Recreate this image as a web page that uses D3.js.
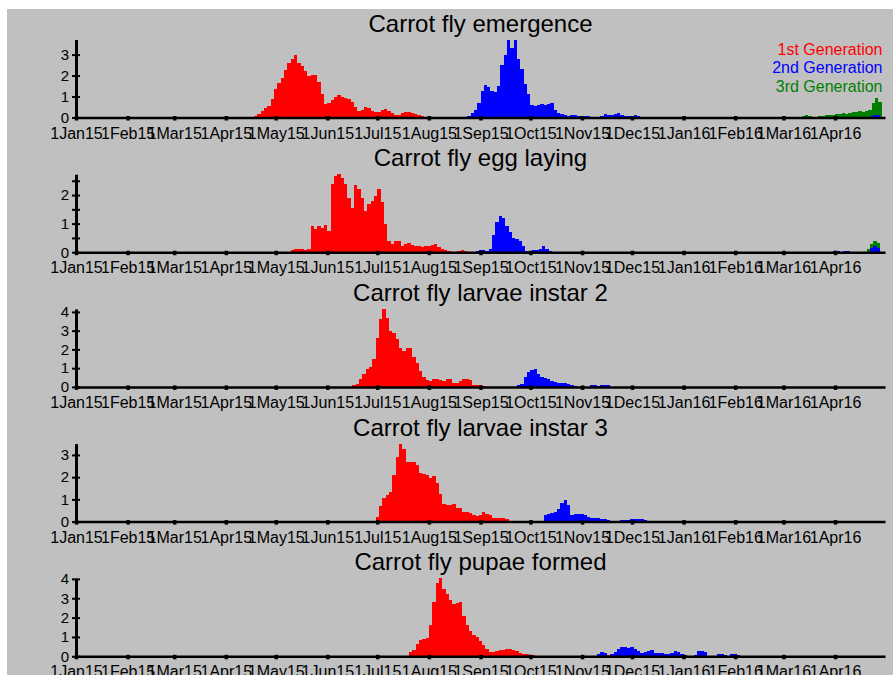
<!DOCTYPE html>
<html>
<head>
<meta charset="utf-8">
<script src="https://cdn.jsdelivr.net/npm/d3@7"></script>
<style>
  body { margin: 0; background: #fff; }
  svg { display: block; font-family: "Liberation Sans", Arial, sans-serif; }
</style>
</head>
<body>
<div id="chart"></div>
<script>
// Panel titles, y maxima and y ticks
const titles = ['Carrot fly emergence', 'Carrot fly egg laying', 'Carrot fly larvae instar 2',
  'Carrot fly larvae instar 3', 'Carrot fly pupae formed'];
const yMaxes = [3.72, 2.73, 4.16, 3.51, 4.03];
const yTickValues = [[0, 1, 2, 3], [0, 0.5, 1, 1.5, 2, 2.5], [0, 1, 2, 3, 4], [0, 1, 2, 3], [0, 1, 2, 3, 4]];

const monthLabels = ['1Jan15', '1Feb15', '1Mar15', '1Apr15', '1May15', '1Jun15', '1Jul15', '1Aug15',
  '1Sep15', '1Oct15', '1Nov15', '1Dec15', '1Jan16', '1Feb16', '1Mar16', '1Apr16'];

const genNames = ['1st Generation', '2nd Generation', '3rd Generation'];
const genColors = ['#ff0000', '#0000ff', '#008000'];

// Each array holds one value per 2 days, from the start date given with it below
const emergenceGen1 = [0.05, 0.15, 0.3, 0.45, 0.55, 0.9, 1.35, 1.65, 1.9, 2.25, 2.6, 2.8, 3.0, 2.6, 2.45, 2.2, 2.0, 2.05,
  2.05, 1.7, 1.1, 0.65, 0.7, 0.85, 1.0, 1.05, 1.0, 0.95, 0.9, 0.75, 0.5, 0.32, 0.35, 0.5, 0.45, 0.32, 0.25, 0.27, 0.35,
  0.4, 0.3, 0.2, 0.13, 0.1, 0.2, 0.27, 0.27, 0.2, 0.15, 0.1, 0.05];
const emergenceGen2 = [0.03, 0.08, 0.2, 0.35, 0.7, 1.25, 1.55, 1.45, 1.25, 1.2, 1.5, 2.5, 3.0, 3.7, 3.3, 3.7, 2.8, 2.3,
  1.6, 1.1, 0.6, 0.55, 0.6, 0.65, 0.6, 0.65, 0.7, 0.35, 0.2, 0.18, 0.12, 0.05, 0.1, 0.1, 0.07, 0.08, 0.05, 0.06, 0.02,
  0, 0.02, 0.08, 0.15, 0.12, 0.13, 0.15, 0.2, 0.12, 0.05, 0.08, 0.08, 0.1, 0.06, 0.04];
const emergenceGen2Late = [0.08, 0.12, 0.1];
const emergenceGen3 = [0.08, 0.1, 0.05, 0.02, 0.03, 0.05, 0.08, 0.1, 0.1, 0.12, 0.15, 0.18, 0.2, 0.18, 0.22, 0.25,
  0.25, 0.3, 0.25, 0.3, 0.35, 0.7, 0.95, 0.75];

const eggGen1 = [0.08, 0.1, 0.1, 0.12, 0.08, 0.1, 0.9, 0.8, 0.9, 0.85, 0.95, 0.75, 2.4, 2.65, 2.72, 2.6, 2.4, 1.9, 1.55,
  2.35, 2.2, 1.9, 1.45, 1.7, 1.8, 1.95, 2.2, 1.75, 1.0, 0.4, 0.28, 0.4, 0.38, 0.2, 0.28, 0.33, 0.25, 0.2, 0.2, 0.18,
  0.2, 0.22, 0.26, 0.28, 0.18, 0.1, 0.08, 0.05, 0.02, 0, 0.04, 0.06, 0.05, 0.02, 0.01, 0.02, 0.03, 0.04, 0.05, 0.02];
const eggGen2 = [0.03, 0.07, 0.08, 0.03, 0.1, 0.6, 1.05, 1.25, 1.2, 0.9, 0.7, 0.5, 0.45, 0.38, 0.2, 0.03, 0.04, 0.06,
  0.08, 0.12, 0.2, 0.12, 0.03];
const eggGen2Spring = [0.05, 0.05, 0, 0.04, 0.04];
const eggGen2Late = [0.15, 0.2, 0.15];
const eggGen3 = [0.12, 0.3, 0.38, 0.33];

const instar2Gen1 = [0.1, 0.15, 0.4, 0.7, 0.95, 1.05, 1.5, 2.6, 3.6, 4.15, 3.7, 3.0, 2.85, 2.55, 2.05, 1.9, 2.05, 2.05,
  1.6, 1.25, 0.85, 0.55, 0.38, 0.3, 0.42, 0.42, 0.36, 0.34, 0.4, 0.4, 0.21, 0.22, 0.3, 0.42, 0.4, 0.35, 0.1, 0.1, 0.08,
  0.05, 0.02, 0.02, 0.01, 0.02];
const instar2Gen2 = [0.1, 0.15, 0.55, 0.82, 0.92, 0.95, 0.7, 0.52, 0.45, 0.4, 0.32, 0.24, 0.21, 0.21, 0.2, 0.16, 0.1,
  0.05, 0.02, 0, 0, 0.02, 0.08, 0.09, 0.03, 0.08, 0.09, 0.08];

const instar3Gen1 = [0.2, 0.7, 1.05, 1.2, 1.35, 2.1, 2.9, 3.5, 3.25, 2.7, 2.7, 2.7, 2.55, 2.2, 2.15, 2.1, 1.95, 2.05,
  1.75, 1.25, 0.8, 0.75, 0.75, 0.8, 0.63, 0.6, 0.45, 0.45, 0.4, 0.28, 0.26, 0.3, 0.44, 0.33, 0.28, 0.18, 0.18, 0.18,
  0.18, 0.1, 0.03];
const instar3Gen2 = [0.3, 0.33, 0.38, 0.42, 0.55, 0.85, 0.96, 0.75, 0.3, 0.32, 0.35, 0.35, 0.28, 0.2, 0.18, 0.15, 0.15,
  0.13, 0.1, 0.08, 0.03, 0.02, 0.03, 0.07, 0.07, 0.05, 0.12, 0.13, 0.1, 0.1, 0.08];

const pupaeGen1 = [0.24, 0.3, 0.62, 0.85, 0.9, 0.97, 1.6, 2.8, 3.8, 4.03, 3.5, 3.2, 2.9, 2.7, 2.75, 2.8, 2.1, 1.6, 1.3,
  1.1, 1.0, 0.8, 0.6, 0.4, 0.2, 0.2, 0.28, 0.3, 0.35, 0.4, 0.38, 0.3, 0.25, 0.18, 0.12, 0.1, 0.08, 0.05, 0.04, 0.03,
  0.04, 0.03, 0.02];
const pupaeGen1Late = [0.06];
const pupaeGen2 = [0.1, 0.2, 0.18, 0.02, 0.12, 0.2, 0.38, 0.48, 0.5, 0.42, 0.5, 0.4, 0.28, 0.15, 0.2, 0.28, 0.3, 0.18,
  0.15, 0.15, 0.1, 0.12, 0.15, 0.25, 0.22, 0.1, 0.05, 0.02, 0.02, 0.05, 0.25, 0.25, 0.2, 0.02, 0.01, 0.02, 0.1, 0.1,
  0.08, 0.02, 0.1, 0.1, 0.05];

// which generation each array belongs to and the date it starts on
const panelSeries = [
  [[0, '2015-04-18', emergenceGen1], [2, '2016-03-12', emergenceGen3], [1, '2015-08-22', emergenceGen2], [1, '2016-04-22', emergenceGen2Late]],
  [[0, '2015-05-10', eggGen1], [2, '2016-04-20', eggGen3], [1, '2015-08-29', eggGen2], [1, '2016-03-31', eggGen2Spring], [1, '2016-04-22', eggGen2Late]],
  [[0, '2015-06-16', instar2Gen1], [1, '2015-09-23', instar2Gen2]],
  [[0, '2015-06-30', instar3Gen1], [1, '2015-10-09', instar3Gen2]],
  [[0, '2015-07-20', pupaeGen1], [0, '2015-11-16', pupaeGen1Late], [1, '2015-11-10', pupaeGen2]]
];
const stepDays = 2;

const width = 893, height = 675;
const parseDate = d3.timeParse('%Y-%m-%d');

const svg = d3.select('#chart').append('svg')
  .attr('width', width)
  .attr('height', height);

// grey panel behind everything
svg.append('rect')
  .attr('x', 7).attr('y', 9)
  .attr('width', width - 7).attr('height', height - 9)
  .attr('fill', '#c0c0c0');

const x = d3.scaleTime()
  .domain([new Date(2015, 0, 1), new Date(2016, 4, 1)])
  .range([76, 885]);
const monthStarts = d3.timeMonth.range(new Date(2015, 0, 1), new Date(2016, 4, 1));

titles.forEach((title, i) => {
  const base = 117.5 + i * 134.7;
  const y = d3.scaleLinear().domain([0, yMaxes[i]]).range([base, base - 78]);
  const g = svg.append('g');

  g.append('text')
    .attr('x', (x.range()[0] + x.range()[1]) / 2)
    .attr('y', base - 86)
    .attr('text-anchor', 'middle')
    .attr('fill', '#000')
    .style('font-size', '24px')
    .text(title);

  const area = d3.area()
    .curve(d3.curveStepAfter)
    .x(d => x(d.date))
    .y0(base)
    .y1(d => y(d.value));

  panelSeries[i].forEach(([gen, start, values]) => {
    const startDate = parseDate(start);
    const pts = values.map((v, k) => ({ date: d3.timeDay.offset(startDate, k * stepDays), value: v }));
    // close the last bar
    pts.push({ date: d3.timeDay.offset(startDate, values.length * stepDays), value: values[values.length - 1] });
    g.append('path')
      .datum(pts)
      .attr('fill', genColors[gen])
      .attr('shape-rendering', 'crispEdges')
      .attr('d', area);
  });

  // X axis
  const xAxis = g.append('g')
    .attr('transform', `translate(0,${base})`)
    .call(d3.axisBottom(x)
      .tickValues(monthStarts)
      .tickFormat((d, k) => monthLabels[k])
      .tickSizeInner(3)
      .tickSizeOuter(0));
  xAxis.attr('font-family', null).attr('font-size', null);
  xAxis.select('.domain').attr('stroke', '#000').attr('stroke-width', 2.5);
  xAxis.selectAll('.tick line').attr('stroke', '#000').attr('stroke-width', 3.5).attr('y1', -1.5);
  xAxis.selectAll('.tick text')
    .attr('fill', '#000')
    .attr('y', 21).attr('dy', null)
    .style('font-size', '16px');

  // Y axis
  const yAxis = g.append('g')
    .attr('transform', `translate(${x.range()[0]},0)`)
    .call(d3.axisLeft(y)
      .tickValues(yTickValues[i])
      .tickFormat(d => Number.isInteger(d) ? d : '')
      .tickSizeInner(4)
      .tickPadding(3)
      .tickSizeOuter(0));
  yAxis.attr('font-family', null).attr('font-size', null);
  yAxis.select('.domain').attr('stroke', '#000').attr('stroke-width', 3);
  yAxis.selectAll('.tick line').attr('stroke', '#000').attr('stroke-width', 2).attr('x1', -4).attr('x2', 4);
  yAxis.selectAll('.tick text').attr('fill', '#000').style('font-size', '15px');
});

// legend, top right of the first panel
svg.append('g').selectAll('text')
  .data(genNames)
  .enter()
  .append('text')
  .attr('x', 882.5)
  .attr('y', (d, k) => 55 + k * 18.3)
  .attr('text-anchor', 'end')
  .attr('fill', (d, k) => genColors[k])
  .style('font-size', '16px')
  .text(d => d);
</script>
</body>
</html>
